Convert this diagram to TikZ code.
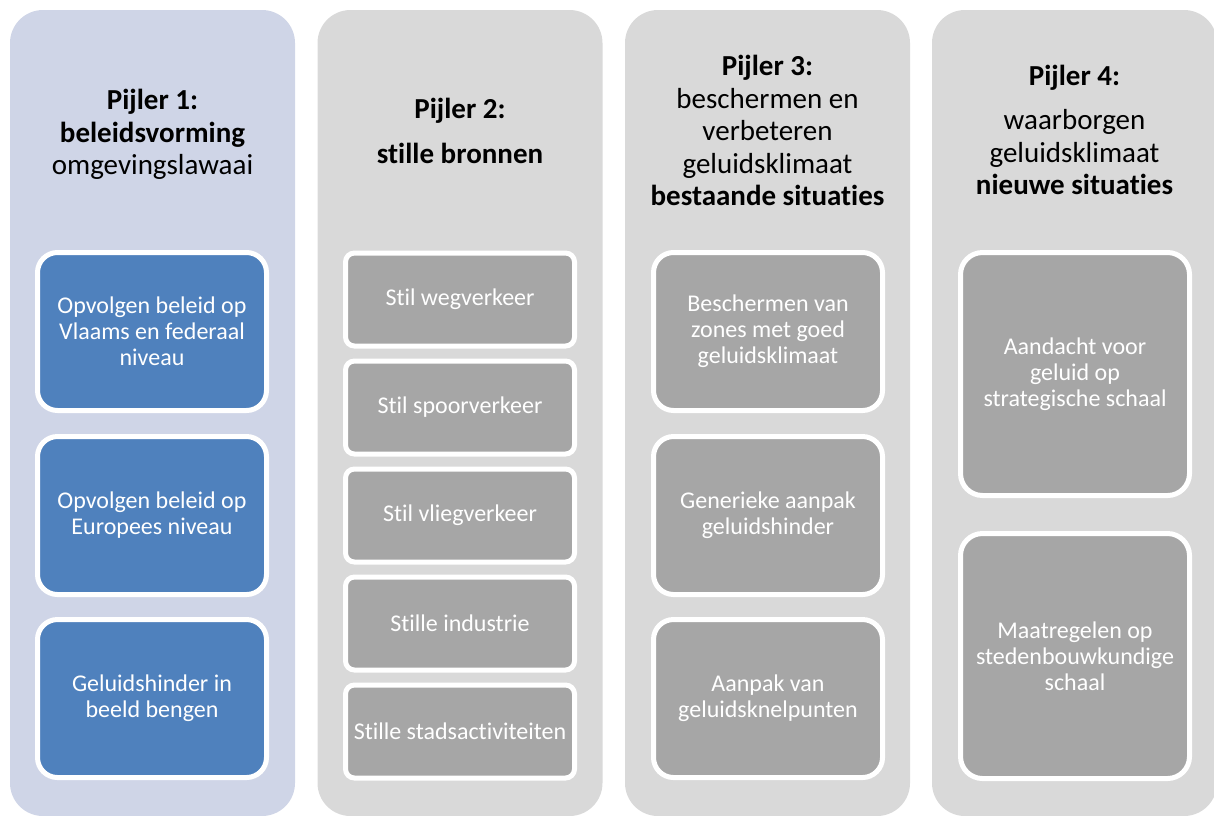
\documentclass[tikz,border=0pt]{standalone}
\usepackage{fontspec}
\setmainfont[Ligatures=NoCommon]{Carlito}
\definecolor{kolblauw}{HTML}{CFD5E7}
\definecolor{kolgrijs}{HTML}{D9D9D9}
\definecolor{blokblauw}{HTML}{4F81BD}
\definecolor{blokgrijs}{HTML}{A6A6A6}
\begin{document}
\begin{tikzpicture}[x=1pt,y=-1pt,
  pijler/.style={rectangle,rounded corners=33pt,minimum width=285pt,minimum height=806pt,inner sep=0pt},
  kop/.style={align=center,inner sep=0pt,font=\fontsize{29}{32.5}\selectfont},
  blok/.style={rectangle,draw=white,line width=5pt,text=white,align=center,inner sep=0pt,minimum width=229pt,font=\fontsize{24}{26}\selectfont}]
  \clip (0,0) rectangle (1214,815);
  \node[pijler,fill=kolblauw] (p1) at (152.5,413) {};
  \node[pijler,fill=kolgrijs] (p2) at (460,413) {};
  \node[pijler,fill=kolgrijs] (p3) at (767.5,413) {};
  \node[pijler,fill=kolgrijs] (p4) at (1074.5,413) {};
  \node[kop] (k1) at (152.5,134.5) {\textbf{Pijler 1:}\\\textbf{beleidsvorming}\\omgevingslawaai};
  \node[kop] (k2) at (460,130.7) {\textbf{Pijler 2:}\\[12pt]\textbf{stille bronnen}};
  \node[kop] (k3) at (767.5,130.7) {\textbf{Pijler 3:}\\beschermen en\\verbeteren\\geluidsklimaat\\\textbf{bestaande situaties}};
  \node[kop] (k4) at (1074.5,130) {\textbf{Pijler 4:}\\[12pt]waarborgen\\geluidsklimaat\\\textbf{nieuwe situaties}};
	\node[blok,fill=blokblauw,rounded corners=20pt,minimum height=158pt] (b11) at (152,331.5) {Opvolgen beleid op\\Vlaams en federaal\\niveau};
	\node[blok,fill=blokblauw,rounded corners=20pt,minimum height=158pt] (b12) at (152,515.5) {Opvolgen beleid op\\Europees niveau};
	\node[blok,fill=blokblauw,rounded corners=20pt,minimum height=158pt] (b13) at (152,698.5) {Geluidshinder in\\beeld bengen};
	\node[blok,fill=blokgrijs,rounded corners=9pt,minimum height=93pt] (b21) at (460,299.5) {Stil wegverkeer};
	\node[blok,fill=blokgrijs,rounded corners=9pt,minimum height=93pt] (b22) at (460,407.5) {Stil spoorverkeer};
	\node[blok,fill=blokgrijs,rounded corners=9pt,minimum height=93pt] (b23) at (460,515.5) {Stil vliegverkeer};
	\node[blok,fill=blokgrijs,rounded corners=9pt,minimum height=93pt] (b24) at (460,623.5) {Stille industrie};
	\node[blok,fill=blokgrijs,rounded corners=9pt,minimum height=93pt] (b25) at (460,731.5) {Stille stadsactiviteiten};
	\node[blok,fill=blokgrijs,rounded corners=20pt,minimum height=158pt] (b31) at (768,331.5) {Beschermen van\\zones met goed\\geluidsklimaat};
	\node[blok,fill=blokgrijs,rounded corners=20pt,minimum height=158pt] (b32) at (768,515.5) {Generieke aanpak\\geluidshinder};
	\node[blok,fill=blokgrijs,rounded corners=20pt,minimum height=158pt] (b33) at (768,698.5) {Aanpak van\\geluidsknelpunten};
	\node[blok,fill=blokgrijs,rounded corners=22pt,minimum height=243pt] (b41) at (1075,374) {Aandacht voor\\geluid op\\strategische schaal};
	\node[blok,fill=blokgrijs,rounded corners=22pt,minimum height=245pt] (b42) at (1075,656) {Maatregelen op\\stedenbouwkundige\\schaal};
\end{tikzpicture}
\end{document}
